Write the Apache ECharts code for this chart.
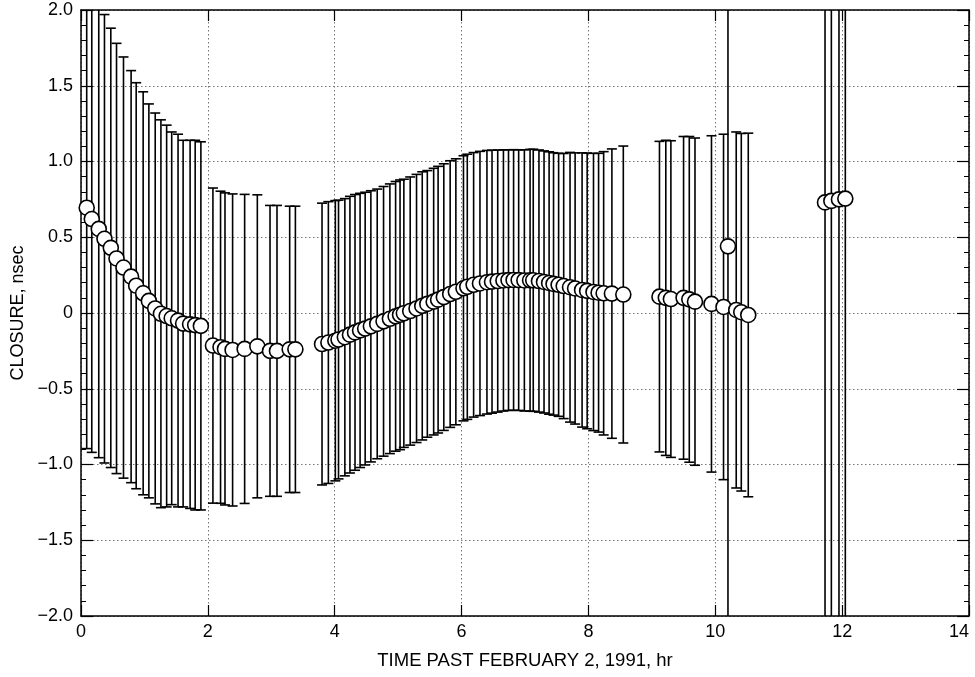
<!DOCTYPE html>
<html><head><meta charset="utf-8">
<script src="https://cdn.jsdelivr.net/npm/echarts@6/dist/echarts.min.js"></script>
<style>html,body{margin:0;padding:0;background:#fff;overflow:hidden}#c{width:975px;height:677px}</style>
</head><body><div id="c"></div>
<script>
// Time past February 2, 1991 (hr)
const timeHr = [
  0.09,0.17,0.28,0.37,0.47,0.56,0.67,0.79,0.87,0.98,1.07,1.17,1.26,1.35,1.43,1.53,1.61,1.72,1.80,1.89,
  2.08,2.20,2.27,2.39,2.58,2.78,2.98,3.09,3.29,3.38,
  3.80,3.90,4.01,4.06,4.16,4.24,4.32,4.40,4.48,4.57,4.67,4.77,4.87,4.96,5.03,5.09,5.19,5.29,5.38,5.46,5.56,
  5.63,5.72,5.82,5.91,6.03,6.09,6.19,6.29,6.40,6.48,6.57,6.66,6.74,6.82,6.90,6.99,7.08,7.13,7.22,7.30,
  7.38,7.45,7.53,7.61,7.71,7.79,7.90,7.98,8.08,8.16,8.24,8.37,8.55,
  9.12,9.22,9.30,9.50,9.59,9.68,9.94,10.13,10.20,10.33,10.41,10.52,
  11.73,11.83,11.95,12.05
];
// Closure (nsec)
const closureNs = [
  0.695,0.62,0.555,0.49,0.43,0.36,0.30,0.24,0.18,0.13,0.08,0.03,-0.005,-0.02,-0.035,-0.05,-0.07,-0.075,-0.08,-0.085,
  -0.215,-0.226,-0.237,-0.244,-0.237,-0.22,-0.25,-0.25,-0.24,-0.24,
  -0.205,-0.195,-0.183,-0.175,-0.16,-0.143,-0.128,-0.115,-0.103,-0.088,-0.072,-0.055,-0.038,-0.022,-0.012,-0.002,0.013,0.03,0.047,0.06,0.075,
  0.088,0.105,0.125,0.14,0.163,0.173,0.186,0.195,0.203,0.207,0.211,0.215,0.217,0.218,0.217,0.215,0.216,0.216,0.211,0.205,
  0.198,0.192,0.186,0.178,0.17,0.162,0.152,0.146,0.139,0.134,0.13,0.128,0.122,
  0.108,0.10,0.092,0.10,0.09,0.075,0.06,0.04,0.44,0.02,0.005,-0.013,
  0.73,0.74,0.75,0.755
];
// One-sigma error (nsec)
const sigmaNs = [
  1.59,1.54,1.51,1.48,1.45,1.42,1.39,1.36,1.34,1.33,1.30,1.29,1.28,1.26,1.23,1.23,1.21,1.215,1.22,1.215,
  1.04,1.03,1.03,1.03,1.02,1.00,0.96,0.96,0.945,0.945,
  0.93,0.93,0.925,0.92,0.915,0.913,0.91,0.905,0.90,0.895,0.89,0.89,0.89,0.89,0.89,0.885,0.885,0.885,0.885,0.88,0.88,
  0.88,0.88,0.88,0.878,0.875,0.875,0.873,0.872,0.87,0.868,0.865,0.862,0.86,0.86,0.86,0.862,0.864,0.865,0.865,0.865,
  0.866,0.866,0.868,0.875,0.89,0.895,0.905,0.91,0.915,0.92,0.935,0.955,0.98,
  1.025,1.04,1.045,1.065,1.075,1.08,1.11,1.14,3.0,1.175,1.18,1.20,
  3.0,3.0,3.0,3.0
];
const xTicks = [0,2,4,6,8,10,12,14];
const yTicks = [-2.0,-1.5,-1.0,-0.5,0,0.5,1.0,1.5,2.0];

const X_MIN = xTicks[0], X_MAX = xTicks[xTicks.length-1];
const Y_MIN = yTicks[0], Y_MAX = yTicks[yTicks.length-1];

const errData = timeHr.map((t,i)=>[t, closureNs[i]-sigmaNs[i], closureNs[i]+sigmaNs[i]]);
const ptData = timeHr.map((t,i)=>[t, closureNs[i]]);

const FONT = 'Liberation Sans';
const fmtY = v => v === 0 ? '0' : (v < 0 ? '\u2212' : '') + Math.abs(v).toFixed(1);

const chart = echarts.init(document.getElementById('c'), null, {renderer:'canvas'});
const gridLine = {show:true, lineStyle:{color:'#777', width:1, type:[1.5,2.5]}};
chart.setOption({
  animation:false,
  backgroundColor:'#fff',
  grid:{left:81, right:6, top:10, bottom:61, containLabel:false, outerBoundsMode:'none'},
  xAxis:[{
    type:'value', min:X_MIN, max:X_MAX, interval:2, position:'bottom',
    name:'TIME PAST FEBRUARY 2, 1991, hr', nameLocation:'middle', nameGap:35,
    nameTextStyle:{fontFamily:FONT, fontSize:18.5, color:'#000'},
    axisLine:{show:true, onZero:false, lineStyle:{color:'#000', width:1.5}},
    axisTick:{show:true, inside:true, length:11, lineStyle:{color:'#000', width:1.2}},
    minorTick:{show:false},
    axisLabel:{fontFamily:FONT, fontSize:18, color:'#000', margin:7, alignMaxLabel:'right'},
    splitLine:gridLine
  },{
    type:'value', min:X_MIN, max:X_MAX, interval:2, position:'top',
    axisLine:{show:true, onZero:false, lineStyle:{color:'#000', width:1.5}},
    axisTick:{show:true, inside:true, length:11, lineStyle:{color:'#000', width:1.2}},
    axisLabel:{show:false}, splitLine:{show:false}
  }],
  yAxis:[{
    type:'value', min:Y_MIN, max:Y_MAX, interval:0.5, position:'left',
    name:'CLOSURE, nsec', nameLocation:'middle', nameGap:53,
    nameTextStyle:{fontFamily:FONT, fontSize:18, color:'#000'},
    axisLine:{show:true, onZero:false, lineStyle:{color:'#000', width:1.5}},
    axisTick:{show:true, inside:true, length:12, lineStyle:{color:'#000', width:1.2}},
    minorTick:{show:true, splitNumber:5, length:5, lineStyle:{color:'#000', width:1}},
    axisLabel:{fontFamily:FONT, fontSize:18, color:'#000', margin:8, formatter:fmtY},
    splitLine:gridLine
  },{
    type:'value', min:Y_MIN, max:Y_MAX, interval:0.5, position:'right',
    axisLine:{show:true, onZero:false, lineStyle:{color:'#000', width:1.5}},
    axisTick:{show:true, inside:true, length:12, lineStyle:{color:'#000', width:1.2}},
    minorTick:{show:true, splitNumber:5, length:5, lineStyle:{color:'#000', width:1}},
    axisLabel:{show:false}, splitLine:{show:false}
  }],
  series:[{
    type:'custom', xAxisIndex:0, yAxisIndex:0, z:2, clip:true,
    data:errData,
    renderItem:function(params, api){
      const x = api.value(0), lo = api.value(1), hi = api.value(2);
      const loC = Math.max(lo, Y_MIN), hiC = Math.min(hi, Y_MAX);
      const pHi = api.coord([x, hiC]), pLo = api.coord([x, loC]);
      const w = 5, st = {stroke:'#000', lineWidth:1.6};
      const ch = [{type:'line', shape:{x1:pHi[0], y1:pHi[1], x2:pLo[0], y2:pLo[1]}, style:st}];
      if (hi <= Y_MAX) ch.push({type:'line', shape:{x1:pHi[0]-w, y1:pHi[1], x2:pHi[0]+w, y2:pHi[1]}, style:st});
      if (lo >= Y_MIN) ch.push({type:'line', shape:{x1:pLo[0]-w, y1:pLo[1], x2:pLo[0]+w, y2:pLo[1]}, style:st});
      return {type:'group', children:ch};
    }
  },{
    type:'scatter', xAxisIndex:0, yAxisIndex:0, z:3,
    data:ptData, symbol:'circle', symbolSize:15,
    itemStyle:{color:'#fff', borderColor:'#000', borderWidth:1.6, opacity:1},
    emphasis:{disabled:true}
  }]
});
</script>
</body></html>
